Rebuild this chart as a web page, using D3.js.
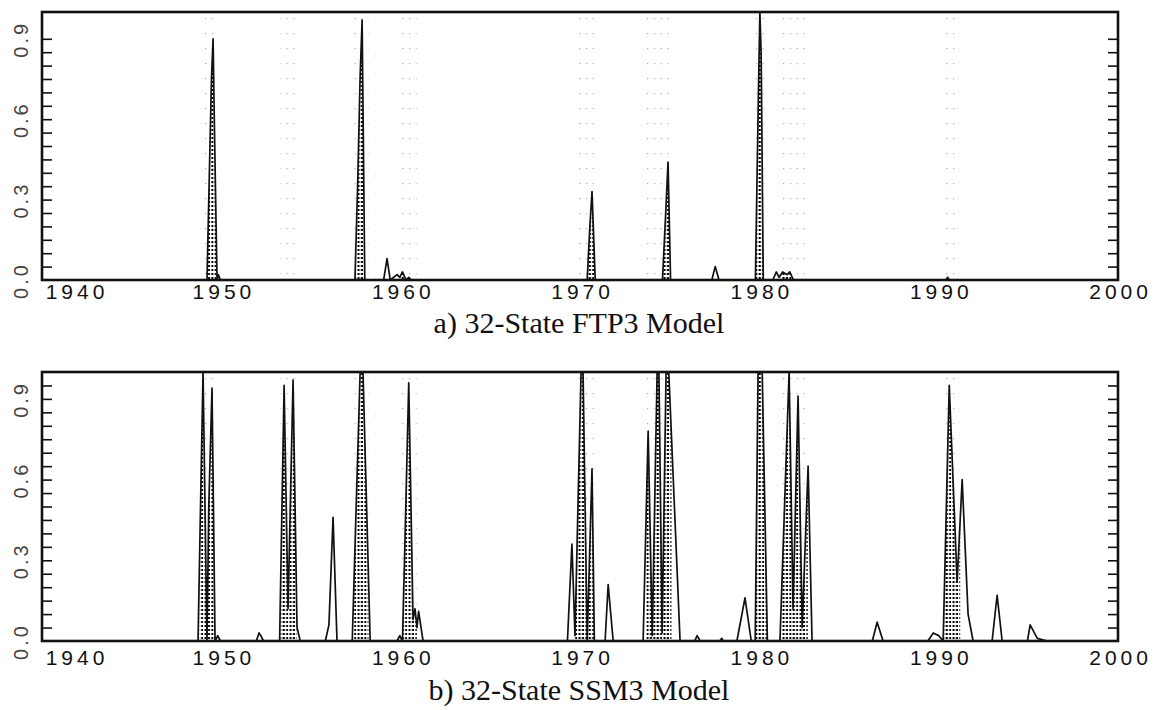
<!DOCTYPE html>
<html>
<head>
<meta charset="utf-8">
<script src="https://cdn.jsdelivr.net/npm/d3@7"></script>
<style>
  body { margin: 0; background: #fff; }
  .tick text { font-family: "Liberation Sans", Arial, sans-serif; fill: #111; }
</style>
</head>
<body>
<svg width="1157" height="710"></svg>
<script>
// ---- data ----
var yearTicks = [1940, 1950, 1960, 1970, 1980, 1990, 2000];
var probTicks = [0.0, 0.3, 0.6, 0.9];
var titles = ["a) 32-State FTP3 Model", "b) 32-State SSM3 Model"];

// recession periods (dotted shading)
var recessions = [
  [1948.8, 1949.7], [1953.3, 1954.2], [1957.4, 1958.2], [1960.0, 1960.9],
  [1969.7, 1970.8], [1973.7, 1975.1], [1979.8, 1980.5], [1981.2, 1982.7],
  [1990.3, 1991.2]
];

// panel a: FTP3 recession probability [year, prob]
var ftpProb = [
  [1940, 0], [1948.9, 0], [1949.2, 0], [1949.3, 0.3], [1949.45, 0.75], [1949.54, 0.9],
  [1949.62, 0.55], [1949.76, 0], [1949.83, 0.02], [1949.95, 0],
  [1957.45, 0], [1957.6, 0.35], [1957.74, 0.76], [1957.85, 0.97], [1958.0, 0],
  [1959.05, 0], [1959.24, 0.08], [1959.42, 0], [1959.8, 0.02], [1959.95, 0.01],
  [1960.1, 0.03], [1960.3, 0], [1960.45, 0.01], [1960.6, 0],
  [1970.4, 0], [1970.55, 0.2], [1970.67, 0.33], [1970.85, 0],
  [1974.6, 0], [1974.8, 0.28], [1974.91, 0.44], [1975.05, 0],
  [1977.35, 0], [1977.54, 0.05], [1977.75, 0],
  [1979.78, 0], [1979.95, 0.7], [1980.03, 1.0], [1980.1, 0.85], [1980.22, 0],
  [1980.75, 0], [1980.95, 0.03], [1981.1, 0.01], [1981.3, 0.03], [1981.55, 0.02],
  [1981.7, 0.03], [1981.9, 0],
  [1990.4, 0], [1990.5, 0.01], [1990.6, 0], [2000, 0]
];

// panel b: SSM3 recession probability [year, prob]
var ssmProb = [
  [1940, 0], [1948.7, 0], [1948.98, 1.0], [1949.2, 0], [1949.3, 0.5], [1949.48, 0.94],
  [1949.65, 0], [1949.8, 0.02], [1949.95, 0],
  [1951.95, 0], [1952.1, 0.03], [1952.2, 0.02], [1952.35, 0],
  [1953.25, 0], [1953.5, 0.95], [1953.72, 0.12], [1954.0, 0.97], [1954.22, 0.05], [1954.4, 0],
  [1955.8, 0], [1956.0, 0.06], [1956.23, 0.46], [1956.45, 0],
  [1957.3, 0], [1957.74, 1.0], [1957.9, 1.0], [1958.3, 0],
  [1959.8, 0], [1959.95, 0.02], [1960.1, 0], [1960.25, 0.4], [1960.45, 0.96],
  [1960.69, 0.08], [1960.8, 0.12], [1960.91, 0.05], [1961.0, 0.11], [1961.25, 0],
  [1969.3, 0], [1969.55, 0.36], [1969.72, 0.02], [1970.06, 1.0], [1970.17, 1.0],
  [1970.4, 0], [1970.67, 0.64], [1970.8, 0],
  [1971.4, 0], [1971.57, 0.21], [1971.85, 0],
  [1973.52, 0], [1973.8, 0.78], [1974.03, 0.02], [1974.3, 1.0], [1974.4, 1.0],
  [1974.58, 0.03], [1974.8, 1.0], [1974.95, 1.0], [1975.58, 0],
  [1976.4, 0], [1976.53, 0.02], [1976.7, 0], [1977.8, 0], [1977.9, 0.01], [1978.0, 0],
  [1978.75, 0], [1979.2, 0.16], [1979.55, 0], [1979.77, 0], [1979.93, 1.0],
  [1980.16, 1.0], [1980.45, 0],
  [1981.15, 0], [1981.66, 1.0], [1981.88, 0.12], [1982.16, 0.91], [1982.39, 0.05],
  [1982.72, 0.65], [1982.94, 0],
  [1986.3, 0], [1986.57, 0.07], [1986.9, 0],
  [1989.4, 0], [1989.7, 0.03], [1990.0, 0.02], [1990.25, 0], [1990.59, 0.95],
  [1991.03, 0.22], [1991.31, 0.6], [1991.64, 0.1], [1991.92, 0],
  [1992.98, 0], [1993.26, 0.17], [1993.54, 0],
  [1994.95, 0], [1995.1, 0.06], [1995.5, 0.01], [1996.05, 0], [2000, 0]
];

// ---- drawing ----
var svg = d3.select("svg");

var x = d3.scaleLinear().domain([1940, 2000]).range([42, 1118]);

var defs = svg.append("defs");
// dense dot grid (under the curve during recessions)
var dense = defs.append("pattern")
    .attr("id", "dense")
    .attr("patternUnits", "userSpaceOnUse")
    .attr("width", 3.4).attr("height", 4);
dense.append("rect").attr("x", 0.5).attr("y", 1).attr("width", 2).attr("height", 2).attr("fill", "#000");

// sparse dots for the recession bands
var sparse = defs.append("pattern")
    .attr("id", "sparse")
    .attr("patternUnits", "userSpaceOnUse")
    .attr("width", 6.8).attr("height", 15);
sparse.append("rect").attr("x", 1).attr("y", 3).attr("width", 1.2).attr("height", 1.2).attr("fill", "#aaa");

var panels = [
  { data: ftpProb, top: 12, bottom: 280, title: titles[0], minorTop: 0.9, labelDy: 18, titleY: 333 },
  { data: ssmProb, top: 372, bottom: 641, title: titles[1], minorTop: 0.95, labelDy: 23, titleY: 700 }
];

panels.forEach(function(p, i) {
  var y = d3.scaleLinear().domain([0, 1]).range([p.bottom, p.top]);
  var g = svg.append("g").attr("class", "panel");

  // clip to recession periods
  var clip = defs.append("clipPath").attr("id", "rec" + i);
  clip.selectAll("rect")
      .data(recessions)
      .enter().append("rect")
      .attr("x", function(d) { return x(d[0]); })
      .attr("width", function(d) { return x(d[1]) - x(d[0]); })
      .attr("y", p.top)
      .attr("height", p.bottom - p.top);

  g.selectAll("rect.band")
      .data(recessions)
      .enter().append("rect")
      .attr("class", "band")
      .attr("x", function(d) { return x(d[0]); })
      .attr("width", function(d) { return x(d[1]) - x(d[0]); })
      .attr("y", p.top)
      .attr("height", p.bottom - p.top)
      .attr("fill", "url(#sparse)");

  var area = d3.area()
      .x(function(d) { return x(d[0]); })
      .y0(y(0))
      .y1(function(d) { return y(d[1]); });

  g.append("path")
      .datum(p.data)
      .attr("d", area)
      .attr("fill", "url(#dense)")
      .attr("clip-path", "url(#rec" + i + ")");

  var line = d3.line()
      .x(function(d) { return x(d[0]); })
      .y(function(d) { return y(d[1]); });

  g.append("path")
      .datum(p.data)
      .attr("d", line)
      .attr("fill", "none")
      .attr("stroke", "#111")
      .attr("stroke-width", 1.7)
      .attr("stroke-linejoin", "round");

  // inward minor ticks on both sides
  var minor = d3.range(1, Math.round(p.minorTop * 20) + 1).map(function(k) { return k / 20; });
  g.append("g")
      .attr("transform", "translate(" + x(1940) + ",0)")
      .call(d3.axisRight(y).tickValues(minor).tickSize(10).tickFormat(""))
      .call(function(a) { a.select(".domain").remove(); a.selectAll("line").attr("stroke", "#111").attr("stroke-width", 1.6); });
  g.append("g")
      .attr("transform", "translate(" + x(2000) + ",0)")
      .call(d3.axisLeft(y).tickValues(minor).tickSize(10).tickFormat(""))
      .call(function(a) { a.select(".domain").remove(); a.selectAll("line").attr("stroke", "#111").attr("stroke-width", 1.6); });

  // frame
  g.append("rect")
      .attr("x", x(1940)).attr("y", p.top)
      .attr("width", x(2000) - x(1940)).attr("height", p.bottom - p.top)
      .attr("fill", "none")
      .attr("stroke", "#111")
      .attr("stroke-width", 2.6);

  // y labels, rotated
  var yAxis = g.append("g")
      .attr("transform", "translate(" + x(1940) + ",0)")
      .call(d3.axisLeft(y).tickValues(probTicks).tickSize(0).tickFormat(d3.format(".1f")));
  yAxis.select(".domain").remove();
  yAxis.selectAll("text")
      .attr("x", null).attr("dy", null)
      .attr("text-anchor", "middle")
      .attr("transform", "translate(-21,0) rotate(-90)")
      .attr("dy", "0.36em")
      .style("font-size", "20px")
      .style("letter-spacing", "3px")
      .style("fill", "#444");

  // x labels
  var xAxis = g.append("g")
      .attr("transform", "translate(0," + p.bottom + ")")
      .call(d3.axisBottom(x).tickValues(yearTicks).tickSize(0).tickPadding(p.labelDy - 14).tickFormat(d3.format("d")));
  xAxis.select(".domain").remove();
  xAxis.selectAll("text")
      .style("font-size", "21px")
      .style("letter-spacing", "4px")
      .attr("text-anchor", function(d) { return d === 1940 ? "start" : "middle"; })
      .attr("dx", function(d) { return d === 1940 ? "0.15em" : "0.1em"; });

  svg.append("text")
      .attr("x", 579)
      .attr("y", p.titleY)
      .attr("text-anchor", "middle")
      .style("font-family", "'Liberation Serif', 'Times New Roman', serif")
      .style("font-size", "30px")
      .style("fill", "#111")
      .text(p.title);
});
</script>
</body>
</html>
